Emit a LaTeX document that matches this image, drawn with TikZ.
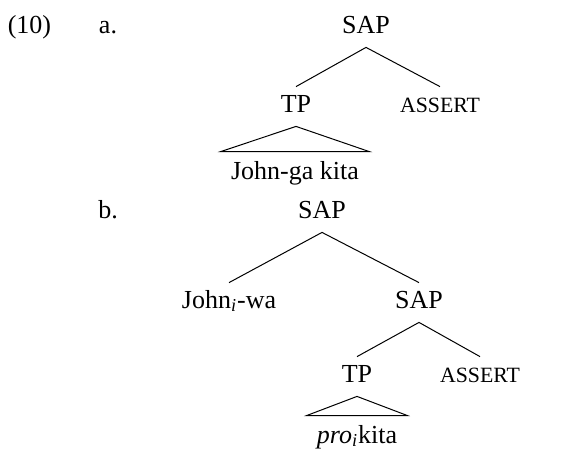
\documentclass[tikz,border=0pt]{standalone}
\usepackage{fontspec}
\setmainfont{Liberation Serif}
\usepackage{tikz}
\tikzset{
  every cat node/.style={anchor=base,inner xsep=5pt,inner ysep=3.5pt,
    text height=9pt,text depth=3.5pt,font=\fontsize{13}{15}\selectfont},
  every feat node/.style={every cat node,font=\fontsize{10.9}{13}\selectfont},
  every leaf node/.style={every cat node,text height=10pt},
  every branch/.style={draw,line width=0.5pt},
}

\begin{document}
\begin{tikzpicture}[x=0.5pt,y=-0.5pt]
\useasboundingbox (0,0) rectangle (581,451);
\node[every cat node] (exnum) at (29.5,33) {(10)};
\node[every cat node] (lbla) at (108,33) {a.};
\node[every cat node] (sapa) at (366,33) {SAP};
\node[every cat node] (tpa) at (296,112) {TP};
\node[every feat node] (asserta) at (440,112) {ASSERT};
\node[every leaf node] (leafa) at (295,179) {John-ga kita};
\node[every cat node] (lblb) at (108,218) {b.};
\node[every cat node] (sapb) at (322,218) {SAP};
\node[every cat node] (topicb) at (229,308) {John\textsubscript{\itshape i}-wa};
\node[every cat node] (sapc) at (419,308) {SAP};
\node[every cat node] (tpb) at (357,382) {TP};
\node[every feat node] (assertb) at (480,382) {ASSERT};
\node[every leaf node] (leafb) at (357,443) {\textit{pro}\textsubscript{\itshape i}kita};
\foreach \up/\down in {sapa/tpa, sapa/asserta, sapb/topicb, sapb/sapc, sapc/tpb, sapc/assertb}
{
  \draw[every branch] (\up.south) -- (\down.north);
}
\foreach \up/\down in {tpa/leafa, tpb/leafb}
{
  \draw[every branch] (\up.south) -- (\down.north west) -- (\down.north east) -- cycle;
}
\end{tikzpicture}
\end{document}
